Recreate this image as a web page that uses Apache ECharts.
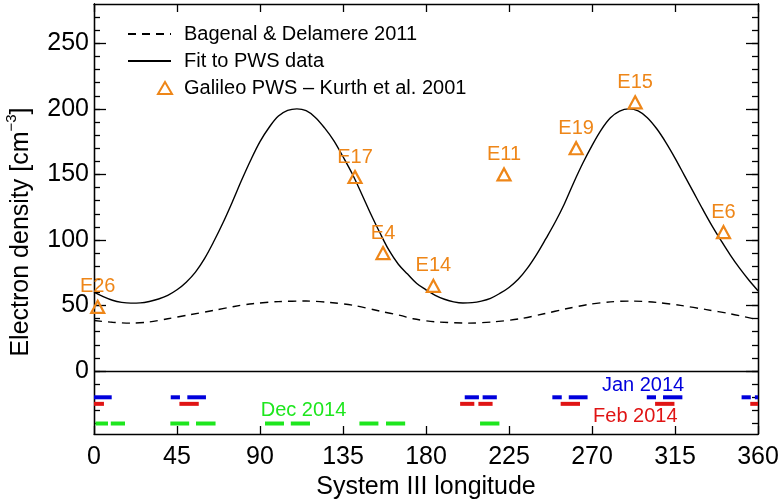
<!DOCTYPE html>
<html>
<head>
<meta charset="utf-8">
<script src="https://cdn.jsdelivr.net/npm/echarts@6/dist/echarts.min.js"></script>
<style>html,body{margin:0;padding:0;background:#fff}#c{width:783px;height:500px}</style>
</head>
<body>
<div id="c"></div>
<script>
// ---- data ----
const fitLon = [0,5,10,15,20,25,30,35,40,45,50,55,60,65,70,75,80,85,90,95,100,105,110,115,120,125,130,135,140,145,150,155,160,165,170,175,180,185,190,195,200,205,210,215,220,225,230,235,240,245,250,255,260,265,270,275,280,285,290,295,300,305,310,315,320,325,330,335,340,345,350,355,360];
const fitDensity = [60.2,56.8,54.0,52.4,51.8,52.0,53.1,55.0,57.8,62.0,67.8,75.5,86.0,99.0,113.3,129,145.5,161,175,186,194.5,198.8,200,198.6,193.5,185.5,175.8,163.5,150.5,135.5,120,105.5,92,81.5,74,66.8,62,57.8,54.8,52.8,51.9,52.2,53.4,55.5,59.2,63.8,70,78.5,89,101,113.5,127.5,143.5,158.5,172,184,193.2,198.3,200,198.5,193.3,185,174.5,162.5,149.5,136.5,123.5,111,99.5,88.5,78.5,69.5,61.3];
const bdLon = [0,10,20,30,40,52,65,76,86,100,115,128,141,155,166,173,185,203,217,231,244,256,268,280,292,305,318,332,345,353,360];
const bdDensity = [38.6,37.2,36.6,37.5,39.9,43,46.3,49.3,51.4,53,53.4,52.3,50.1,45.7,42.5,39.9,37.6,36.6,37.6,39.9,43.7,47.5,50.8,52.8,53.4,52.4,50.1,46.9,43.7,41.3,39.2];
const pointNames = ['E26','E17','E4','E14','E11','E19','E15','E6'];
const pointLon = [2,141.5,156.7,184,222.3,261.4,293.4,341.3];
const pointDensity = [49,148,90,65,150,170,205,106];
const janSegments = [[0,9.6],[41.6,46.6],[50.6,60.7],[201,208.7],[210.7,218.4],[248.5,253.6],[257.4,267.6],[299.7,304.7],[308.5,319],[351.1,356.1],[358.3,360]];
const febSegments = [[0,5.4],[46.3,56.8],[198.5,206.2],[208.4,216.1],[253,263.5],[304.2,314.7],[355.8,360]];
const decSegments = [[0.8,7.6],[9.1,16.8],[41.4,51.6],[55.3,65.9],[92.7,103],[106.7,117.1],[143.9,154.2],[158.3,168.7],[209.3,219.8]];
const janLevel = -20, febLevel = -25, decLevel = -40;
const noteNames = ['Jan 2014','Feb 2014','Dec 2014'];
const noteLon = [297.7,293.5,113.6];
const noteValue = [-10.9,-35,-30];
const yTickLabels = [0,50,100,150,200,250];
const yMinorTicks = [-40,-30,-20,-10,0,10,20,30,40,50,60,70,80,90,100,110,120,130,140,150,160,170,180,190,200,210,220,230,240,250,260,270];

// ---- styles ----
const FONT = 'Liberation Sans, Arial, Helvetica, sans-serif';
const ORANGE = '#EE8618', BLUE = '#0000DC', RED = '#E01414', GREEN = '#1EE61E';
const noteColors = [BLUE, RED, GREEN];
const YMIN = -48, YMAX = 280;

function segSeries(name, segs, level, color) {
  return {
    type: 'custom', name: name, silent: true, z: 3,
    data: segs.map(s => [s[0], s[1], level]),
    renderItem: function (params, api) {
      const p1 = api.coord([api.value(0), api.value(2)]);
      const p2 = api.coord([api.value(1), api.value(2)]);
      return { type: 'line', shape: { x1: p1[0], y1: p1[1], x2: p2[0], y2: p2[1] },
        style: { stroke: color, lineWidth: 4, lineCap: 'butt' } };
    },
    encode: { x: [0, 1], y: 2 }
  };
}

function yAx(pos, labels, major) {
  return {
    type: 'value', position: pos, min: YMIN, max: YMAX,
    axisLine: { show: true, onZero: false, lineStyle: { color: '#000', width: 1.3 } },
    splitLine: { show: false },
    axisTick: { show: true, inside: true, length: major ? 12 : 6,
      customValues: major ? yTickLabels : yMinorTicks, lineStyle: { color: '#000', width: 1.3 } },
    axisLabel: labels ? { show: true, customValues: yTickLabels, margin: 5, color: '#000',
      fontSize: 25, fontFamily: FONT } : { show: false }
  };
}

const chart = echarts.init(document.getElementById('c'), null, { renderer: 'canvas' });
chart.setOption({
  animation: false,
  backgroundColor: '#fff',
  grid: { left: 94, right: 25, top: 4, bottom: 66, containLabel: false, outerBoundsMode: 'none' },
  xAxis: [
    { type: 'value', position: 'bottom', min: 0, max: 360, interval: 45,
      name: 'System III longitude', nameLocation: 'middle', nameGap: 35,
      nameTextStyle: { fontSize: 25, fontFamily: FONT, color: '#000' },
      axisLine: { show: true, onZero: false, lineStyle: { color: '#000', width: 1.3 } },
      axisTick: { inside: true, length: 8, lineStyle: { color: '#000', width: 1.3 } },
      axisLabel: { margin: 11, fontSize: 25, fontFamily: FONT, color: '#000' },
      splitLine: { show: false } },
    { type: 'value', position: 'top', min: 0, max: 360, interval: 45,
      axisLine: { show: true, onZero: false, lineStyle: { color: '#000', width: 1.3 } },
      axisTick: { inside: true, length: 8, lineStyle: { color: '#000', width: 1.3 } },
      axisLabel: { show: false }, splitLine: { show: false } }
  ],
  yAxis: [ yAx('left', true, true), yAx('left', false, false), yAx('right', false, true), yAx('right', false, false) ],
  legend: [
    { left: 122, top: 19, orient: 'vertical', itemWidth: 43, itemHeight: 14, itemGap: 7,
      data: ['Bagenal & Delamere 2011', 'Fit to PWS data'],
      itemStyle: { opacity: 0 },
      textStyle: { fontSize: 20, fontFamily: FONT, color: '#000', padding: [0, 0, 0, 8] } },
    { left: 152, top: 73, orient: 'vertical', itemWidth: 14, itemHeight: 12,
      data: ['Galileo PWS – Kurth et al. 2001'],
      itemStyle: { opacity: 1 },
      textStyle: { fontSize: 20, fontFamily: FONT, color: '#000', padding: [0, 0, 0, 7] } }
  ],
  graphic: [
    { type: 'text', x: 19, y: 232, rotation: Math.PI / 2,
      style: { text: '{a|Electron density [cm}{s|−3}{a|]}', align: 'center', verticalAlign: 'middle', fill: '#000',
        rich: { a: { fontSize: 25, fontFamily: FONT, color: '#000', lineHeight: 30, verticalAlign: 'bottom' },
                s: { fontSize: 15, fontFamily: FONT, color: '#000', lineHeight: 30, verticalAlign: 'top' } } } }
  ],
  series: [
    { type: 'line', name: 'Bagenal & Delamere 2011', data: bdLon.map((x, i) => [x, bdDensity[i]]),
      symbol: 'none', smooth: 0.3, lineStyle: { color: '#000', width: 1.4, type: [8, 6] },
      itemStyle: { color: '#000' }, z: 2 },
    { type: 'line', name: 'Fit to PWS data', data: fitLon.map((x, i) => [x, fitDensity[i]]),
      symbol: 'none', smooth: 0.35, lineStyle: { color: '#000', width: 1.4 }, itemStyle: { color: '#000' }, z: 2,
      markLine: { silent: true, symbol: 'none', label: { show: false },
        lineStyle: { color: '#000', width: 1.4, type: 'solid' }, data: [{ yAxis: 0 }] } },
    { type: 'scatter', name: 'Galileo PWS – Kurth et al. 2001',
      data: pointLon.map((x, i) => ({ value: [x, pointDensity[i]], name: pointNames[i] })),
      symbol: 'triangle', symbolSize: [13, 12],
      itemStyle: { color: 'rgba(255,255,255,0)', borderColor: ORANGE, borderWidth: 2.2, opacity: 1 },
      label: { show: true, position: 'top', distance: 3, formatter: '{b}', color: ORANGE, fontSize: 20, fontFamily: FONT },
      z: 4 },
    segSeries('jan', janSegments, janLevel, BLUE),
    segSeries('feb', febSegments, febLevel, RED),
    segSeries('dec', decSegments, decLevel, GREEN),
    { type: 'scatter', name: 'notes', silent: true, symbol: 'circle', symbolSize: 1,
      itemStyle: { color: 'rgba(255,255,255,0)', opacity: 1 },
      data: noteNames.map((n, i) => ({ value: [noteLon[i], noteValue[i]], name: n,
        label: { color: noteColors[i] } })),
      label: { show: true, position: 'inside', formatter: '{b}', fontSize: 20, fontFamily: FONT }, z: 5 }
  ]
});
</script>
</body>
</html>
